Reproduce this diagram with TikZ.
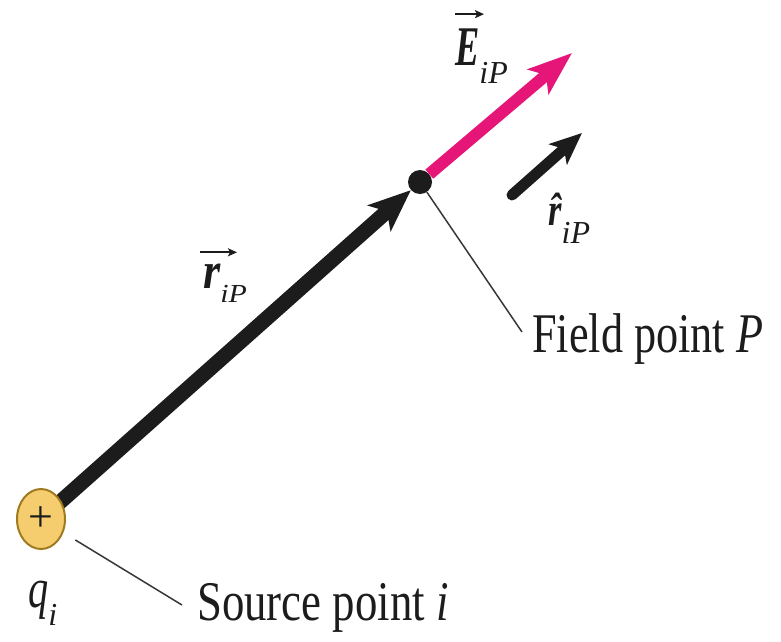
\documentclass[tikz,border=0pt]{standalone}
\usepackage{fontspec}
\setmainfont{Liberation Serif}
\usetikzlibrary{arrows.meta,shapes.geometric,backgrounds}
\definecolor{efield}{RGB}{230,22,120}
\definecolor{chargefill}{RGB}{246,205,110}
\definecolor{chargeedge}{RGB}{160,122,32}
\definecolor{ink}{RGB}{28,28,28}
\definecolor{leadgray}{RGB}{55,55,55}
\newcommand{\hsc}[2]{\scalebox{#1}[1]{#2}}
\begin{document}
\begin{tikzpicture}[x=1pt,y=-1pt,
  lbl/.style={inner sep=0pt, anchor=base west, text=ink},
  vecbar/.style={line width=2.2pt, draw=ink, -{Stealth[length=9pt,width=8pt,inset=2pt]}},
  bigarrow/.style={line width=15pt, draw=ink, -{Stealth[length=42pt,width=34pt,inset=10pt]}},
  efarrow/.style={line width=12pt, draw=efield, -{Stealth[length=44pt,width=32pt,inset=10pt]}},
  hatarrow/.style={line width=11pt, draw=ink, line cap=round, -{Stealth[length=32pt,width=27pt,inset=8pt]}},
  leader/.style={line width=1.5pt, draw=leadgray},
  chargenode/.style={ellipse, draw=chargeedge, line width=2pt, fill=chargefill, minimum width=48pt, minimum height=60pt, inner sep=0pt, text=ink},
  pointnode/.style={circle, fill=ink, minimum size=24pt, inner sep=0pt}
]
\useasboundingbox (0,0) rectangle (781,641);

% nodes
\node[chargenode] (charge) at (41,519) {\fontsize{44}{44}\selectfont +};
\node[pointnode] (P) at (420,182) {};

\coordinate (Etip) at (572,53);
\coordinate (rhs) at (512,195);
\coordinate (rhe) at (582,133);
\coordinate (fieldend) at (522,332);
\coordinate (srcend) at (182,605);

% connectors
\begin{pgfonlayer}{background}
\draw[bigarrow] (charge.center) -- (P);
\end{pgfonlayer}
\draw[efarrow] (P) -- (Etip);
\draw[hatarrow] (rhs) -- (rhe);
\draw[leader] (P) -- (fieldend);
\draw[leader, shorten <=14pt] (charge) -- (srcend);

% labels
\node[lbl] (Elbl) at (455,65) {\hsc{0.65}{\fontsize{56}{56}\selectfont\bfseries\itshape E}\raisebox{-18pt}{\fontsize{32}{32}\selectfont\itshape iP}};
\draw[vecbar] ([yshift=14pt]Elbl.north west) -- ++(29,0);

\node[lbl] (rlbl) at (203,288) {\hsc{0.85}{\fontsize{52}{52}\selectfont\bfseries\itshape r}\raisebox{-14pt}{\hsc{1.15}{\fontsize{26}{26}\selectfont\itshape iP}}};
\draw[vecbar] ([shift={(-3pt,11pt)}]rlbl.north west) -- ++(37,0);

\node[lbl] (rhlbl) at (548,225) {\hsc{0.75}{\fontsize{46}{46}\selectfont\bfseries\itshape \^{r}}\raisebox{-18pt}{\fontsize{32}{32}\selectfont\itshape iP}};

\node[lbl] (qlbl) at (28,607) {\hsc{0.72}{\fontsize{56}{56}\selectfont\itshape q}\raisebox{-18pt}{\fontsize{32}{32}\selectfont\itshape i}};

\node[lbl] (fieldlbl) at (532,352) {\hsc{0.79}{\fontsize{56}{56}\selectfont Field point \textit{P}}};
\node[lbl] (srclbl) at (197,620) {\hsc{0.8}{\fontsize{56}{56}\selectfont Source point \textit{i}}};
\end{tikzpicture}
\end{document}
